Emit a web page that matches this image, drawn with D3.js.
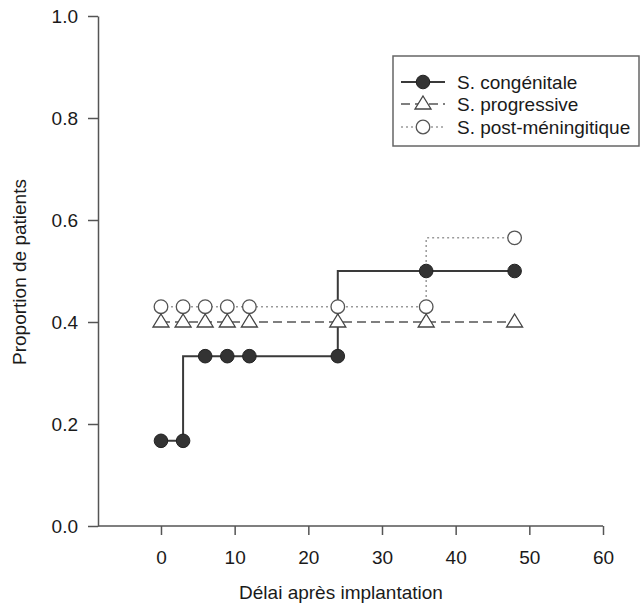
<!DOCTYPE html>
<html>
<head>
<meta charset="utf-8">
<script src="https://cdn.jsdelivr.net/npm/d3@7"></script>
<style>
  body { margin: 0; background: #fff; }
  svg { font-family: "Liberation Sans", Arial, sans-serif; }
  .axis path, .axis line { stroke: #555; stroke-width: 1.5; }
  .axis text { fill: #1a1a1a; font-size: 19px; }
</style>
</head>
<body>
<svg id="chart"></svg>
<script>
// data
const months = [0, 3, 6, 9, 12, 24, 36, 48];
const congenitale = [0.167, 0.167, 0.333, 0.333, 0.333, 0.333, 0.5, 0.5];
const progressive = [0.4, 0.4, 0.4, 0.4, 0.4, 0.4, 0.4, 0.4];
const postMeningitique = [0.43, 0.43, 0.43, 0.43, 0.43, 0.43, 0.43, 0.565];

const seriesNames = ["S. congénitale", "S. progressive", "S. post-méningitique"];
const xTicks = [0, 10, 20, 30, 40, 50, 60];
const yTicks = [0.0, 0.2, 0.4, 0.6, 0.8, 1.0];

const width = 643, height = 611;

const svg = d3.select("#chart")
  .attr("width", width)
  .attr("height", height);

const x = d3.scaleLinear().domain([-8.55, 60]).range([98, 603]);
const y = d3.scaleLinear().domain([0, 1]).range([526, 16]);

// axes
svg.append("g")
  .attr("class", "axis")
  .attr("transform", `translate(0,${y(0)})`)
  .call(d3.axisBottom(x).tickValues(xTicks).tickSize(9).tickPadding(16).tickSizeOuter(0))
  .call(g => g.select(".domain").attr("d", `M${x.range()[0]},0H${x(60)}`));

svg.append("g")
  .attr("class", "axis")
  .attr("transform", `translate(${x(-8.55)},0)`)
  .call(d3.axisLeft(y).tickValues(yTicks).tickFormat(d3.format(".1f")).tickSize(10).tickPadding(10).tickSizeOuter(0));

// axis titles
svg.append("text")
  .attr("x", 341).attr("y", 599)
  .attr("text-anchor", "middle")
  .attr("font-size", 19).attr("fill", "#1a1a1a")
  .text("Délai après implantation");

svg.append("text")
  .attr("transform", "translate(26,272) rotate(-90)")
  .attr("text-anchor", "middle")
  .attr("font-size", 19).attr("fill", "#1a1a1a")
  .text("Proportion de patients");

// series
const styles = [
  { values: congenitale, stroke: "#3a3a3a", width: 2, dash: null, marker: "dot" },
  { values: progressive, stroke: "#555", width: 1.5, dash: "9,5", marker: "tri" },
  { values: postMeningitique, stroke: "#9a9a9a", width: 1.5, dash: "2,3", marker: "ring" }
];

const line = d3.line()
  .x(d => x(d.m))
  .y(d => y(d.v))
  .curve(d3.curveStepBefore);

const triPath = "M0,-8L8,5L-8,5Z";

function drawMarker(g, kind, cx, cy) {
  if (kind === "dot") {
    g.append("circle").attr("cx", cx).attr("cy", cy).attr("r", 6.8)
      .attr("fill", "#333").attr("stroke", "#222").attr("stroke-width", 1);
  } else if (kind === "tri") {
    g.append("path").attr("d", triPath)
      .attr("transform", `translate(${cx},${cy})`)
      .attr("fill", "#fff").attr("stroke", "#444").attr("stroke-width", 1.3);
  } else {
    g.append("circle").attr("cx", cx).attr("cy", cy).attr("r", 6.8)
      .attr("fill", "#fff").attr("stroke", "#555").attr("stroke-width", 1.3);
  }
}

// lines first, then markers (rings under triangles, dots on top)
styles.forEach(s => {
  const pts = months.map((m, i) => ({ m: m, v: s.values[i] }));
  svg.append("path")
    .datum(pts)
    .attr("d", line)
    .attr("fill", "none")
    .attr("stroke", s.stroke)
    .attr("stroke-width", s.width)
    .attr("stroke-dasharray", s.dash);
});

[2, 1, 0].forEach(k => {
  const s = styles[k];
  const g = svg.append("g");
  months.forEach((m, i) => drawMarker(g, s.marker, x(m), y(s.values[i])));
});

// legend
const legend = svg.append("g");
legend.append("rect")
  .attr("x", 393).attr("y", 56)
  .attr("width", 246).attr("height", 90)
  .attr("fill", "#fff").attr("stroke", "#666").attr("stroke-width", 1.5);

const rowY = [82, 104, 127];
styles.forEach((s, i) => {
  const yy = rowY[i];
  legend.append("line")
    .attr("x1", 401).attr("x2", 445).attr("y1", yy).attr("y2", yy)
    .attr("stroke", s.stroke).attr("stroke-width", s.width)
    .attr("stroke-dasharray", s.dash);
  drawMarker(legend, s.marker, 423, yy);
  legend.append("text")
    .attr("x", 457).attr("y", yy).attr("dy", "0.35em")
    .attr("font-size", 19).attr("fill", "#1a1a1a")
    .text(seriesNames[i]);
});
</script>
</body>
</html>
